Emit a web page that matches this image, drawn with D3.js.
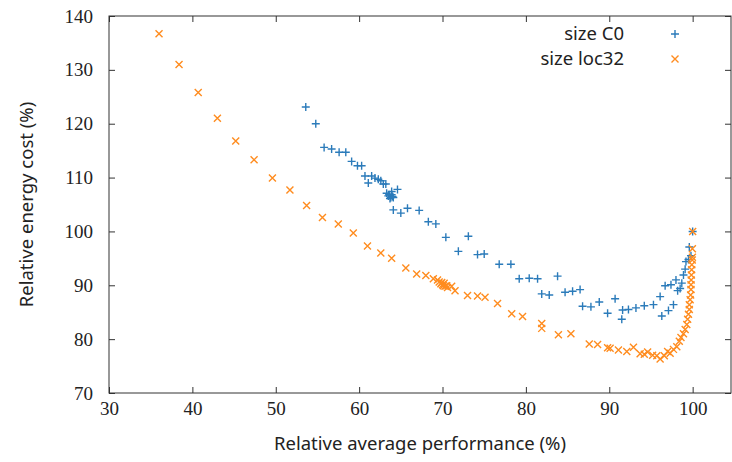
<!DOCTYPE html>
<html>
<head>
<meta charset="utf-8">
<script src="https://d3js.org/d3.v7.min.js"></script>
<style>
  body { margin: 0; background: #fff; }
  .tick text { font-family: "Liberation Serif", serif; font-size: 19px; fill: #222; }
  .title { font-family: "Noto Sans", sans-serif; font-size: 18.5px; fill: #222; }
</style>
</head>
<body>
<svg width="732" height="462"></svg>
<script>
// size C0 (blue +)
const c0X = [53.6,54.8,55.8,56.7,57.6,58.4,59.1,59.8,60.3,60.7,61.1,61.5,61.9,62.3,62.6,62.9,63.2,63.3,63.6,
  63.5,63.8,64.0,63.7,63.9,64.1,63.9,64.6,64.1,65.0,65.8,67.2,68.3,69.2,70.4,71.9,73.1,74.2,75.0,76.8,78.2,
  79.2,80.4,81.4,83.8,81.9,82.8,84.7,85.6,86.5,86.8,87.8,88.8,89.8,90.7,91.5,91.6,92.3,93.2,94.2,95.3,96.1,
  96.3,97.1,97.7,96.7,97.4,98.0,98.2,98.5,98.7,98.9,99.1,99.2,99.5,99.6,99.8,100];
const c0Y = [123.1,120.0,115.6,115.3,114.7,114.7,113.0,112.2,112.2,110.3,109.0,110.3,109.9,109.7,109.4,108.8,108.8,107.1,106.8,
  106.6,106.3,106.5,106.1,106.8,106.3,107.4,107.8,104.0,103.4,104.3,103.9,101.8,101.4,98.9,96.3,99.1,95.7,95.8,93.9,93.9,
  91.2,91.3,91.2,91.7,88.4,88.2,88.7,88.9,89.2,86.1,86.0,86.9,84.8,87.5,83.7,85.4,85.5,85.8,86.2,86.4,87.9,
  84.3,85.3,86.4,89.9,90.1,91.0,89.0,89.4,90.4,91.9,93.0,94.4,94.8,97.1,95.5,100];

// size loc32 (orange x)
const locX = [36.0,38.4,40.7,43.0,45.2,47.4,49.6,51.7,53.7,55.6,57.5,59.3,61.0,62.6,63.9,65.6,66.9,68.0,68.9,
  69.4,69.6,69.8,70.0,69.9,70.1,70.3,70.5,70.2,70.6,71.1,71.5,73.0,74.2,75.1,76.6,78.3,79.6,81.9,81.9,83.9,85.4,
  87.6,88.6,89.8,90.1,91.1,92.1,92.9,93.7,94.2,94.6,95.2,95.7,96.1,96.6,97.0,97.3,97.7,98.1,98.4,98.6,98.9,
  99.1,99.3,99.4,99.5,99.6,99.6,99.7,99.76,99.8,99.8,99.82,99.85,99.88,99.9,99.95,99.97,99.97,100];
const locY = [136.7,131.0,125.8,121.0,116.8,113.3,109.9,107.7,104.8,102.6,101.4,99.7,97.3,96.0,95.0,93.2,92.1,91.8,91.2,
  91.0,90.6,90.3,90.1,90.5,89.9,89.8,89.9,90.4,89.6,89.8,89.0,88.1,88.0,87.8,86.6,84.7,84.2,82.9,82.0,80.8,81.0,
  79.1,79.0,78.4,78.3,78.0,77.7,78.5,77.3,77.2,77.6,77.0,76.9,76.3,76.9,77.7,77.4,78.1,78.6,79.6,80.3,81.0,
  81.8,82.7,83.7,84.6,85.5,86.4,87.3,88.2,89.2,90.1,91.0,91.9,92.9,93.8,94.7,95.2,96.8,100];

const xTicks = [30,40,50,60,70,80,90,100];
const yTicks = [70,80,90,100,110,120,130,140];
const seriesNames = ["size C0", "size loc32"];
const colors = ["#2b7bba", "#ff8c1f"];

const pLeft = 109, pRight = 731, pTop = 16, pBottom = 393;
const svg = d3.select("svg");

const x = d3.scaleLinear().domain([30, 104.6]).range([pLeft, pRight]);
const y = d3.scaleLinear().domain([70, 140]).range([pBottom, pTop]);

// axes with inward ticks
svg.append("g").attr("transform", `translate(0,${pBottom})`)
  .call(d3.axisBottom(x).tickValues(xTicks).tickSize(-6).tickPadding(9))
  .call(g => g.select(".domain").remove());
svg.append("g").attr("transform", `translate(${pLeft},0)`)
  .call(d3.axisLeft(y).tickValues(yTicks).tickSize(-6).tickPadding(16))
  .call(g => g.select(".domain").remove());
svg.append("g").attr("transform", `translate(0,${pTop})`)
  .call(d3.axisTop(x).tickValues(xTicks).tickSize(-6).tickFormat(""))
  .call(g => g.select(".domain").remove());
svg.append("g").attr("transform", `translate(${pRight},0)`)
  .call(d3.axisRight(y).tickValues(yTicks).tickSize(-6).tickFormat(""))
  .call(g => g.select(".domain").remove());
svg.selectAll(".tick line").attr("stroke", "#333");

svg.append("rect")
  .attr("x", pLeft).attr("y", pTop)
  .attr("width", pRight - pLeft).attr("height", pBottom - pTop)
  .attr("fill", "none").attr("stroke", "#333").attr("stroke-width", 1);

const plusPath = "M-4,0H4M0,-4V4";
const crossPath = "M-3.5,-3.5L3.5,3.5M-3.5,3.5L3.5,-3.5";

svg.append("g").selectAll("path")
  .data(d3.range(c0X.length))
  .join("path")
  .attr("d", plusPath)
  .attr("transform", i => `translate(${x(c0X[i])},${y(c0Y[i])})`)
  .attr("stroke", colors[0]).attr("stroke-width", 1.4).attr("fill", "none");

svg.append("g").selectAll("path")
  .data(d3.range(locX.length))
  .join("path")
  .attr("d", crossPath)
  .attr("transform", i => `translate(${x(locX[i])},${y(locY[i])})`)
  .attr("stroke", colors[1]).attr("stroke-width", 1.4).attr("fill", "none");

// legend
const legend = svg.append("g");
seriesNames.forEach((name, i) => {
  const ly = 34 + i * 25;
  legend.append("text").attr("class", "title")
    .attr("x", 624).attr("y", ly).attr("dy", "0.35em")
    .attr("text-anchor", "end").text(name);
  legend.append("path")
    .attr("d", i === 0 ? plusPath : crossPath)
    .attr("transform", `translate(675,${ly})`)
    .attr("stroke", colors[i]).attr("stroke-width", 1.4).attr("fill", "none");
});

// axis titles
svg.append("text").attr("class", "title")
  .attr("x", (pLeft + pRight) / 2).attr("y", 450)
  .attr("text-anchor", "middle")
  .text("Relative average performance (%)");
svg.append("text").attr("class", "title")
  .attr("transform", `translate(33,${(pTop + pBottom) / 2}) rotate(-90)`)
  .attr("text-anchor", "middle")
  .text("Relative energy cost (%)");
</script>
</body>
</html>
